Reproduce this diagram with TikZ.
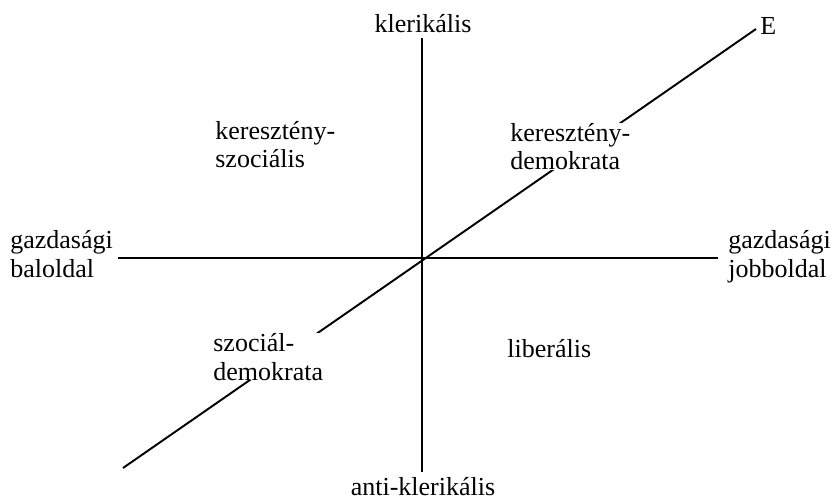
\documentclass[tikz,border=0pt]{standalone}
\usepackage{fontspec}
\setmainfont{Liberation Serif}
\begin{document}
\begin{tikzpicture}[x=0.02cm, y=-0.02cm,
  lbl/.style={inner sep=0pt, align=left, fill=white, font=\fontsize{14.8}{16.5}\selectfont},
  axisline/.style={line width=1.1pt}]
\useasboundingbox (0,0) rectangle (832,500);
% axis ends
\coordinate (top) at (422,38);
\coordinate (bottom) at (422,472);
\coordinate (left) at (118,258);
\coordinate (right) at (718,258);
\coordinate (low) at (123,468);
\coordinate (high) at (756,29);
% axes
\draw[axisline] (top) -- (bottom);
\draw[axisline] (left) -- (right);
\draw[axisline] (low) -- (high);
% axis labels
\node[lbl, anchor=base] (kler) at (423,33) {klerikális};
\node[lbl, anchor=base] (antikler) at (423,495) {anti-klerikális};
\node[lbl, anchor=base west] (bal) at (10,277) {gazdasági\\baloldal};
\node[lbl, anchor=base west] (jobb) at (728,277) {gazdasági\\jobboldal};
\node[lbl, anchor=base west] (E) at (760,35) {E};
% quadrant labels
\node[lbl, anchor=base west] (kerszoc) at (215,168) {keresztény-\\szociális};
\node[lbl, anchor=base west] (kerdem) at (510,170) {keresztény-\\demokrata};
\node[lbl, anchor=base west] (szocdem) at (213,380) {szociál-\\demokrata};
\node[lbl, anchor=base west] (liberal) at (507,357) {liberális};
\end{tikzpicture}
\end{document}
